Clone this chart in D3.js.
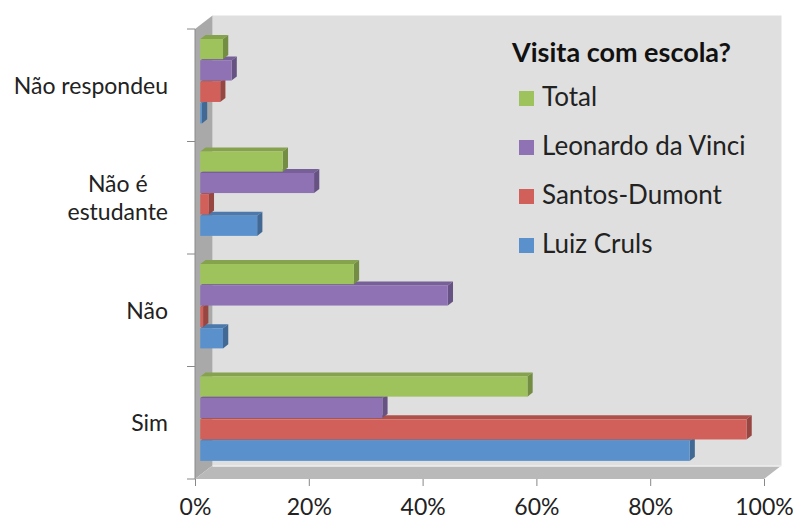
<!DOCTYPE html>
<html>
<head>
<meta charset="utf-8">
<script src="https://cdn.jsdelivr.net/npm/d3@7"></script>
<style>
  body { margin: 0; background: #fff; }
  svg { display: block; font-family: Lato, "Open Sans", sans-serif; }
</style>
</head>
<body>
<div class="chart"></div>
<script>
var categories = ["Não respondeu", "Não é estudante", "Não", "Sim"];
var seriesNames = ["Total", "Leonardo da Vinci", "Santos-Dumont", "Luiz Cruls"];
var seriesColors = ["#9fc35c", "#8e72b4", "#d2605a", "#5a91cc"];
// values per series, same order as categories
var total = [4, 14.5, 27, 57.5];
var leonardo = [5.5, 20, 43.5, 32];
var santos = [3.5, 1.5, 0.5, 96];
var luiz = [0.3, 10, 4, 86];
var tickValues = [0, 20, 40, 60, 80, 100];

function init() {
  var w = 793;
  var h = 522;
  var left = 195, right = 764, top = 29, bottom = 479;
  var depth = [17.5, -13.5];
  var front = 0.3, back = 0.6;

  var series = [total, leonardo, santos, luiz];

  var svg = d3.select(".chart")
    .append("svg")
    .attr("width", w)
    .attr("height", h);

  var xScale = d3.scaleLinear()
    .domain([0, 100])
    .range([left, right]);

  var yScale = d3.scaleBand()
    .domain(categories)
    .range([top, bottom])
    .paddingInner(0.25)
    .paddingOuter(0.125);

  var ySub = d3.scaleBand()
    .domain(d3.range(seriesNames.length))
    .range([0, yScale.bandwidth()])
    .paddingInner(0.06);

  var dx = depth[0], dy = depth[1];

  // walls
  svg.append("polygon")
    .attr("points", [[left + dx, top + dy], [right + dx, top + dy], [right + dx, bottom + dy], [left + dx, bottom + dy]].join(" "))
    .attr("fill", "#dfdfdf");
  svg.append("polygon")
    .attr("points", [[left, top], [left + dx, top + dy], [left + dx, bottom + dy], [left, bottom]].join(" "))
    .attr("fill", "#a9a9a9");
  svg.append("polygon")
    .attr("points", [[left, bottom], [left + dx, bottom + dy], [right + dx, bottom + dy], [right, bottom]].join(" "))
    .attr("fill", "#b9b9b9");
  svg.append("line")
    .attr("x1", left + dx).attr("x2", right + dx)
    .attr("y1", bottom + dy + 0.5).attr("y2", bottom + dy + 0.5)
    .attr("stroke", "#f2f2f2").attr("stroke-width", 1.5);

  // bars, drawn bottom first so upper bars cover the top faces below them
  var bars = [];
  categories.forEach(function(c, ci) {
    series.forEach(function(s, si) {
      bars.push({ cat: c, s: si, v: s[ci] });
    });
  });
  bars.reverse();

  var fx = front * dx, fy = front * dy, bx = back * dx, by = back * dy;

  var g = svg.selectAll(".bar")
    .data(bars)
    .enter()
    .append("g")
    .attr("class", "bar");

  g.append("polygon")
    .attr("points", function(d) {
      var x0 = xScale(0), x1 = xScale(d.v);
      var y0 = yScale(d.cat) + ySub(d.s);
      return [[x0 + fx, y0 + fy], [x1 + fx, y0 + fy], [x1 + bx, y0 + by], [x0 + bx, y0 + by]].join(" ");
    })
    .attr("fill", function(d) { return d3.color(seriesColors[d.s]).darker(0.5); });

  g.append("polygon")
    .attr("points", function(d) {
      var x1 = xScale(d.v);
      var y0 = yScale(d.cat) + ySub(d.s);
      var y1 = y0 + ySub.bandwidth();
      return [[x1 + fx, y0 + fy], [x1 + bx, y0 + by], [x1 + bx, y1 + by], [x1 + fx, y1 + fy]].join(" ");
    })
    .attr("fill", function(d) { return d3.color(seriesColors[d.s]).darker(0.9); });

  g.append("rect")
    .attr("x", xScale(0) + fx)
    .attr("y", function(d) { return yScale(d.cat) + ySub(d.s) + fy; })
    .attr("width", function(d) { return xScale(d.v) - xScale(0); })
    .attr("height", ySub.bandwidth())
    .attr("fill", function(d) { return seriesColors[d.s]; });

  // x axis
  var xAxis = svg.append("g")
    .attr("transform", "translate(0," + bottom + ")")
    .call(d3.axisBottom(xScale)
      .tickValues(tickValues)
      .tickSize(7)
      .tickFormat(function(d) { return d + "%"; }));
  xAxis.select(".domain").remove();
  xAxis.selectAll("line").attr("stroke", "#888");
  xAxis.selectAll("text")
    .attr("y", 36)
    .attr("dy", 0)
    .attr("font-family", "Lato, sans-serif")
    .attr("font-size", "23px")
    .attr("fill", "#222");

  // y axis ticks at category boundaries
  var step = yScale.step();
  var bounds = d3.range(categories.length + 1).map(function(i) { return top + i * step; });
  svg.selectAll(".ytick")
    .data(bounds)
    .enter()
    .append("line")
    .attr("x1", left - 8).attr("x2", left)
    .attr("y1", function(d) { return d; }).attr("y2", function(d) { return d; })
    .attr("stroke", "#888");
  svg.append("line")
    .attr("x1", left).attr("x2", left)
    .attr("y1", top).attr("y2", bottom)
    .attr("stroke", "#8a8a8a");

  // category labels
  var labelLines = {
    "Não respondeu": ["Não respondeu"],
    "Não é estudante": ["Não é", "estudante"],
    "Não": ["Não"],
    "Sim": ["Sim"]
  };
  categories.forEach(function(c) {
    var lines = labelLines[c];
    var cy = yScale(c) + yScale.bandwidth() / 2;
    var lh = 28;
    var t = svg.append("text")
      .attr("font-size", "23px")
      .attr("fill", "#222");
    lines.forEach(function(l, i) {
      t.append("tspan")
        .attr("y", cy + (i - (lines.length - 1) / 2) * lh)
        .attr("dy", "0.36em")
        .text(l);
    });
    var maxW = 0;
    t.selectAll("tspan").each(function() {
      maxW = Math.max(maxW, this.getComputedTextLength());
    });
    t.attr("text-anchor", "middle");
    t.selectAll("tspan").attr("x", 168 - maxW / 2);
  });

  // legend
  var legend = svg.append("g");
  legend.append("text")
    .attr("x", 512)
    .attr("y", 62)
    .attr("font-size", "27px")
    .attr("font-weight", "bold")
    .attr("fill", "#111")
    .text("Visita com escola?");
  seriesNames.forEach(function(n, i) {
    var base = 106 + i * 49;
    legend.append("rect")
      .attr("x", 519).attr("y", base - 15)
      .attr("width", 15).attr("height", 15)
      .attr("fill", seriesColors[i]);
    legend.append("text")
      .attr("x", 542).attr("y", base)
      .attr("font-size", "26px")
      .attr("fill", "#222")
      .text(n);
  });
}

window.onload = init;
</script>
</body>
</html>
